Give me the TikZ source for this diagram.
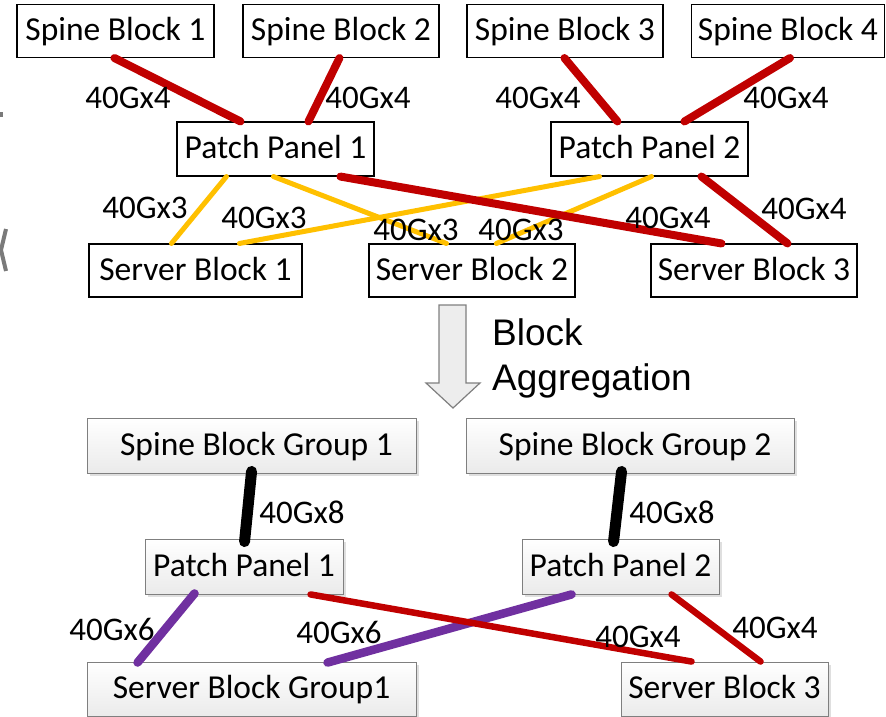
\documentclass[tikz,border=0pt]{standalone}
\usepackage{fontspec}
\setmainfont{Carlito}
\newfontfamily\arialfont{Liberation Sans}
\usetikzlibrary{shadows}

\definecolor{linkred}{HTML}{C00000}
\definecolor{linkyel}{HTML}{FFC000}
\definecolor{linkpur}{HTML}{7030A0}
\definecolor{framegray}{HTML}{7F7F7F}
\definecolor{arrowfill}{HTML}{EDEDED}
\definecolor{fraggray}{HTML}{7A7A7A}

\tikzset{
  plainbox/.style={draw=black, line width=1.1pt, fill=white, inner sep=0pt,
    minimum height=53pt, text height=23pt, text depth=4pt,
    font=\fontsize{33.5}{40}\selectfont},
  groupbox/.style={draw=framegray, line width=0.9pt, inner sep=0pt,
    top color=white, bottom color=black!8,
    drop shadow={opacity=0.25, shadow xshift=2.5pt, shadow yshift=-2.5pt},
    minimum height=55pt, text height=23pt, text depth=4pt,
    font=\fontsize{33.5}{40}\selectfont},
  rate/.style={inner sep=0pt, font=\fontsize{33}{40}\selectfont},
  redlink/.style={draw=linkred, line width=8pt, line cap=round},
  thinred/.style={draw=linkred, line width=6.5pt, line cap=round},
  yellink/.style={draw=linkyel, line width=5pt, line cap=round},
  purlink/.style={draw=linkpur, line width=8.5pt, line cap=round},
  blklink/.style={draw=black, line width=11pt, line cap=round},
}

\begin{document}
\begin{tikzpicture}[x=1pt, y=-1pt]
\useasboundingbox (0,0) rectangle (886,717);

% edge fragments at the left border
\fill[fraggray] (0,112) rectangle (3,117);
\draw[fraggray, line width=4pt] (6,229) -- (1,250) -- (6,271);

% ---------- upper network: individual blocks ----------
\node[plainbox, minimum width=197pt] (sp1) at (115.5,31) {Spine Block 1};
\node[plainbox, minimum width=196pt] (sp2) at (341,31) {Spine Block 2};
\node[plainbox, minimum width=196pt] (sp3) at (565,31) {Spine Block 3};
\node[plainbox, minimum width=193pt] (sp4) at (788,31) {Spine Block 4};

\node[plainbox, minimum width=197pt, minimum height=54pt] (pp1) at (275.5,149) {Patch Panel 1};
\node[plainbox, minimum width=197pt, minimum height=54pt] (pp2) at (649.5,149) {Patch Panel 2};

\node[plainbox, minimum width=213pt] (sv1) at (195.5,270.5) {Server Block 1};
\node[plainbox, minimum width=206pt] (sv2) at (472,270.5) {Server Block 2};
\node[plainbox, minimum width=206pt] (sv3) at (754,270.5) {Server Block 3};

% spine to patch panel links
\draw[redlink] ([xshift=98pt]sp1.south west) -- ([xshift=64pt]pp1.north west);
\draw[redlink] ([xshift=97pt]sp2.south west) -- ([xshift=132pt]pp1.north west);
\draw[redlink] ([xshift=98pt]sp3.south west) -- ([xshift=67pt]pp2.north west);
\draw[redlink] ([xshift=99pt]sp4.south west) -- ([xshift=134pt]pp2.north west);

% patch panel to server links
\draw[yellink] ([xshift=50pt]pp1.south west) -- ([xshift=83pt]sv1.north west);
\draw[yellink] ([xshift=97pt]pp1.south west) -- ([xshift=78pt]sv2.north west);
\draw[yellink] ([xshift=49pt]pp2.south west) -- ([xshift=151pt]sv1.north west);
\draw[yellink] ([xshift=101pt]pp2.south west) -- ([xshift=128pt]sv2.north west);
\draw[redlink] ([xshift=164pt]pp1.south west) -- ([xshift=71pt]sv3.north west);
\draw[redlink] ([xshift=151pt]pp2.south west) -- ([xshift=137pt]sv3.north west);

% link capacities
\node[rate] (r1) at (128,98) {40Gx4};
\node[rate] (r2) at (368,98) {40Gx4};
\node[rate] (r3) at (538,98) {40Gx4};
\node[rate] (r4) at (786,98) {40Gx4};
\node[rate] (r5) at (145,208) {40Gx3};
\node[rate] (r6) at (264,218) {40Gx3};
\node[rate] (r7) at (416,230) {40Gx3};
\node[rate] (r8) at (521,230) {40Gx3};
\node[rate] (r9) at (668,218) {40Gx4};
\node[rate] (r10) at (804,209) {40Gx4};

% ---------- aggregation step ----------
\filldraw[fill=arrowfill, draw=framegray, line width=1.2pt, line join=miter]
  (439,305) -- (466,305) -- (466,383) -- (480,383) -- (453,408)
  -- (426,383) -- (439,383) -- cycle;
\node[anchor=base west, inner sep=0pt, font=\arialfont\fontsize{37}{45}\selectfont]
  (agg1) at (492,345) {Block};
\node[anchor=base west, inner sep=0pt, font=\arialfont\fontsize{37}{45}\selectfont]
  (agg2) at (492,390) {Aggregation};

% ---------- lower network: block groups ----------
\node[groupbox, minimum width=329pt] (sbg1) at (251.5,445.5) {\hspace*{10pt}Spine Block Group 1};
\node[groupbox, minimum width=328pt] (sbg2) at (630,445.5) {\hspace*{10pt}Spine Block Group 2};

\node[groupbox, minimum width=198pt] (bpp1) at (244,566.5) {Patch Panel 1};
\node[groupbox, minimum width=197pt] (bpp2) at (620.5,566.5) {Patch Panel 2};

\node[groupbox, minimum width=329pt, minimum height=54pt] (svg1) at (251.5,689) {Server Block Group1};
\node[groupbox, minimum width=207pt, minimum height=54pt] (bsv3) at (724.5,689) {Server Block 3};

\draw[blklink] ([xshift=165pt, yshift=2pt]sbg1.south west) -- ([xshift=100pt, yshift=-3pt]bpp1.north west);
\draw[blklink] ([xshift=156pt, yshift=2pt]sbg2.south west) -- ([xshift=92pt, yshift=-3pt]bpp2.north west);

\draw[purlink] ([xshift=50pt, yshift=1pt]bpp1.south west) -- ([xshift=51pt, yshift=-1pt]svg1.north west);
\draw[purlink] ([xshift=241pt, yshift=-1pt]svg1.north west) -- ([xshift=50pt]bpp2.south west);
\draw[thinred] ([xshift=166pt]bpp1.south west) -- ([xshift=71pt]bsv3.north west);
\draw[thinred] ([xshift=150pt]bpp2.south west) -- ([xshift=140pt]bsv3.north west);

\node[rate] (q1) at (302,512) {40Gx8};
\node[rate] (q2) at (672,512) {40Gx8};
\node[rate] (q3) at (112,629) {40Gx6};
\node[rate] (q4) at (339,632) {40Gx6};
\node[rate] (q5) at (638,637) {40Gx4};
\node[rate] (q6) at (775,628) {40Gx4};
\end{tikzpicture}
\end{document}
